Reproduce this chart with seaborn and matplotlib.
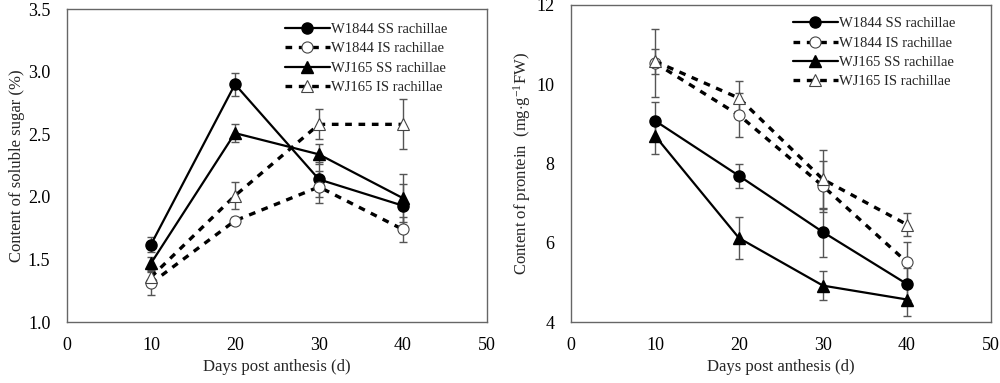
import numpy as np
import pandas as pd
import matplotlib
matplotlib.use("Agg")
import matplotlib.pyplot as plt
import seaborn as sns

sns.set_style("white")
plt.rcParams['font.family'] = ['Liberation Serif', 'DejaVu Serif']
plt.rcParams['mathtext.fontset'] = 'custom'
plt.rcParams['mathtext.rm'] = 'Liberation Serif'
plt.rcParams['mathtext.it'] = 'Liberation Serif'

### DATA
days = [10, 20, 30, 40]
series_names = ['W1844 SS rachillae', 'W1844 IS rachillae', 'WJ165 SS rachillae', 'WJ165 IS rachillae']

# soluble sugar (%)
sugar_w1844_ss = [1.62, 2.90, 2.14, 1.93]
sugar_w1844_is = [1.31, 1.81, 2.08, 1.74]
sugar_wj165_ss = [1.47, 2.51, 2.34, 1.99]
sugar_wj165_is = [1.36, 2.01, 2.58, 2.58]
sugar_err_w1844_ss = [0.06, 0.09, 0.14, 0.17]
sugar_err_w1844_is = [0.09, 0.03, 0.13, 0.10]
sugar_err_wj165_ss = [0.05, 0.07, 0.08, 0.19]
sugar_err_wj165_is = [0.05, 0.11, 0.12, 0.20]

# protein (mg/g FW)
prot_w1844_ss = [9.08, 7.69, 6.27, 4.96]
prot_w1844_is = [10.54, 9.22, 7.43, 5.51]
prot_wj165_ss = [8.70, 6.12, 4.92, 4.57]
prot_wj165_is = [10.58, 9.65, 7.60, 6.46]
prot_err_w1844_ss = [0.48, 0.30, 0.62, 0.40]
prot_err_w1844_is = [0.85, 0.55, 0.64, 0.50]
prot_err_wj165_ss = [0.46, 0.53, 0.37, 0.42]
prot_err_wj165_is = [0.32, 0.43, 0.75, 0.30]

sugar_vals = [sugar_w1844_ss, sugar_w1844_is, sugar_wj165_ss, sugar_wj165_is]
sugar_errs = [sugar_err_w1844_ss, sugar_err_w1844_is, sugar_err_wj165_ss, sugar_err_wj165_is]
prot_vals = [prot_w1844_ss, prot_w1844_is, prot_wj165_ss, prot_wj165_is]
prot_errs = [prot_err_w1844_ss, prot_err_w1844_is, prot_err_wj165_ss, prot_err_wj165_is]

# styles per series
markers = ['o', 'o', '^', '^']
filled = [True, False, True, False]
dashed = [False, True, False, True]


def draw_panel(ax, vals, errs, ylim, yticks, ylabel, legend_anchor):
    handles = []
    for name, v, e, m, f, d in zip(series_names, vals, errs, markers, filled, dashed):
        ax.errorbar(days, v, yerr = e, fmt = 'none', ecolor = '#555555', elinewidth = 1,
                    capsize = 3, capthick = 1, zorder = 2)
        df = pd.DataFrame({'day': days, 'value': v})
        sns.lineplot(data = df, x = 'day', y = 'value', ax = ax, color = 'black',
                     linewidth = 2.4 if d else 1.6,
                     linestyle = (0, (2.0, 2.0)) if d else '-',
                     marker = m, markersize = 8,
                     markerfacecolor = 'black' if f else 'white',
                     markeredgecolor = 'black' if f else '#444444',
                     markeredgewidth = 1 if f else 0.8,
                     zorder = 3 if f else 4)
        handles.append(ax.lines[-1])
        handles[-1].set_label(name)

    ax.set_xlim(0, 50)
    ax.set_ylim(*ylim)
    ax.set_xticks([0, 10, 20, 30, 40, 50])
    ax.set_yticks(yticks)
    ax.tick_params(direction = 'in', length = 4, width = 0.8, colors = '#555555',
                   labelcolor = 'black', labelsize = 13, pad = 11)
    ax.tick_params(axis = 'y', pad = 12)
    for s in ax.spines.values():
        s.set_color('#666666')
        s.set_linewidth(1)
    ax.set_xlabel('Days post anthesis (d)', fontsize = 12, labelpad = 3)
    ax.set_ylabel(ylabel, fontsize = 12, labelpad = 2)
    ax.legend(handles = handles, loc = 'upper right', bbox_to_anchor = legend_anchor,
              frameon = False, fontsize = 10.5, handlelength = 3.1, handletextpad = 0.1,
              labelspacing = 0.42, borderaxespad = 0)


fig = plt.figure(figsize = (10, 3.83), dpi = 100)
ax1 = fig.add_axes([0.067, 0.159, 0.420, 0.817])
ax2 = fig.add_axes([0.571, 0.159, 0.420, 0.828])

draw_panel(ax1, sugar_vals, sugar_errs, (1.0, 3.5), [1.0, 1.5, 2.0, 2.5, 3.0, 3.5],
           'Content of soluble sugar (%)', (0.92, 0.975))
draw_panel(ax2, prot_vals, prot_errs, (4, 12), [4, 6, 8, 10, 12],
           'Content of prontein  (mg$\\cdot$g$^{-1}$FW)', (0.93, 0.98))
ax1.set_yticklabels(['1.0', '1.5', '2.0', '2.5', '3.0', '3.5'])

fig.savefig('out.png', dpi = 100)
